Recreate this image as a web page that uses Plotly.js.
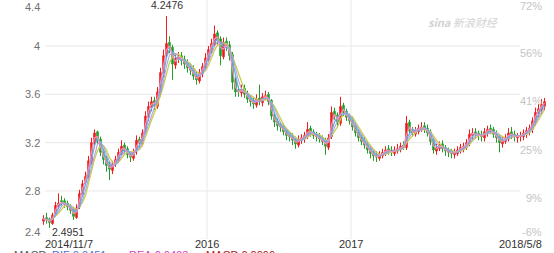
<!DOCTYPE html>
<html>
<head>
<meta charset="utf-8">
<script src="https://cdn.plot.ly/plotly-3.0.1.min.js"></script>
<style>
html,body{margin:0;padding:0;background:#fff;}
#chart{width:554px;height:253px;}
</style>
</head>
<body>
<div id="chart"></div>
<script>
// ---- data (weekly-ish candles, 2014/11/7 .. 2018/5/8) ----
const opens = [2.55,2.58,2.57,2.53,2.61,2.67,2.72,2.72,2.70,2.66,2.65,2.58,2.67,2.77,2.88,2.91,3.04,3.19,3.29,3.23,
3.13,3.07,3.02,2.97,3.03,3.05,3.11,3.18,3.15,3.11,3.07,3.13,3.23,3.19,3.29,3.41,3.49,3.55,3.50,3.61,
3.77,3.93,4.03,3.99,3.84,3.89,3.92,3.89,3.86,3.83,3.81,3.76,3.71,3.77,3.82,3.89,3.96,4.01,4.11,4.06,
3.91,4.04,4.01,3.93,3.71,3.63,3.61,3.65,3.61,3.57,3.55,3.51,3.57,3.53,3.57,3.60,3.55,3.43,3.38,3.35,
3.34,3.30,3.27,3.26,3.23,3.18,3.22,3.23,3.25,3.32,3.29,3.27,3.26,3.24,3.22,3.16,3.25,3.46,3.43,3.36,
3.51,3.46,3.42,3.39,3.34,3.29,3.25,3.22,3.19,3.15,3.12,3.10,3.07,3.09,3.11,3.15,3.14,3.11,3.13,3.14,
3.18,3.16,3.37,3.31,3.27,3.29,3.31,3.34,3.32,3.29,3.22,3.13,3.15,3.19,3.16,3.14,3.13,3.10,3.11,3.13,
3.15,3.16,3.19,3.26,3.29,3.28,3.27,3.24,3.28,3.32,3.31,3.28,3.25,3.19,3.21,3.23,3.29,3.27,3.24,3.25,
3.25,3.27,3.29,3.31,3.37,3.44,3.47,3.50];
const highs = [2.60,2.62,2.58,2.62,2.71,2.78,2.76,2.74,2.72,2.69,2.67,2.69,2.81,2.89,2.96,3.09,3.24,3.31,3.30,3.25,
3.15,3.09,3.05,3.05,3.09,3.15,3.22,3.20,3.17,3.13,3.15,3.26,3.25,3.31,3.46,3.54,3.58,3.58,3.66,3.82,
3.97,4.2476,4.08,4.01,3.94,3.95,3.95,3.92,3.89,3.86,3.84,3.79,3.81,3.86,3.94,4.00,4.06,4.17,4.13,4.08,
4.07,4.07,4.04,3.95,3.74,3.67,3.68,3.68,3.63,3.59,3.57,3.60,3.68,3.61,3.63,3.62,3.56,3.45,3.40,3.37,
3.36,3.32,3.29,3.28,3.25,3.26,3.27,3.29,3.37,3.34,3.31,3.29,3.28,3.26,3.24,3.27,3.50,3.49,3.45,3.58,
3.53,3.48,3.44,3.41,3.36,3.31,3.27,3.25,3.21,3.17,3.14,3.13,3.13,3.15,3.17,3.18,3.17,3.17,3.19,3.20,
3.21,3.42,3.39,3.33,3.33,3.35,3.37,3.37,3.35,3.31,3.24,3.19,3.21,3.22,3.18,3.16,3.15,3.15,3.17,3.19,
3.20,3.23,3.31,3.32,3.32,3.30,3.30,3.32,3.34,3.35,3.33,3.30,3.27,3.25,3.27,3.32,3.33,3.30,3.28,3.29,
3.31,3.33,3.35,3.41,3.49,3.52,3.56,3.57];
const lows = [2.52,2.53,2.4951,2.52,2.59,2.65,2.68,2.66,2.64,2.61,2.56,2.57,2.65,2.75,2.85,2.89,3.02,3.16,3.18,3.09,
3.02,2.96,2.89,2.94,3.00,3.03,3.09,3.11,3.07,3.04,3.05,3.10,3.16,3.17,3.27,3.38,3.46,3.47,3.48,3.58,
3.74,3.90,3.94,3.72,3.81,3.86,3.84,3.81,3.78,3.76,3.72,3.68,3.69,3.74,3.80,3.87,3.94,3.99,4.01,3.84,
3.89,3.96,3.88,3.64,3.58,3.58,3.58,3.57,3.53,3.50,3.48,3.49,3.51,3.50,3.55,3.51,3.39,3.33,3.30,3.29,
3.26,3.22,3.21,3.18,3.15,3.16,3.19,3.20,3.23,3.25,3.23,3.21,3.20,3.18,3.10,3.14,3.23,3.39,3.33,3.34,
3.42,3.38,3.35,3.30,3.25,3.21,3.18,3.15,3.11,3.07,3.05,3.04,3.05,3.07,3.09,3.10,3.09,3.09,3.11,3.12,
3.14,3.14,3.27,3.25,3.25,3.27,3.29,3.28,3.25,3.18,3.11,3.10,3.13,3.12,3.09,3.08,3.07,3.07,3.09,3.11,
3.12,3.14,3.17,3.23,3.23,3.22,3.21,3.21,3.25,3.27,3.24,3.20,3.12,3.16,3.19,3.21,3.23,3.21,3.20,3.21,
3.22,3.24,3.26,3.28,3.34,3.41,3.44,3.47];
const closes = [2.57,2.56,2.54,2.60,2.68,2.70,2.71,2.69,2.67,2.64,2.59,2.66,2.78,2.86,2.92,3.05,3.20,3.28,3.22,3.12,
3.06,3.01,2.98,3.02,3.06,3.12,3.17,3.14,3.10,3.08,3.12,3.22,3.20,3.28,3.42,3.50,3.54,3.51,3.62,3.78,
3.92,4.02,3.98,3.85,3.90,3.91,3.88,3.85,3.82,3.80,3.75,3.72,3.78,3.83,3.90,3.97,4.02,4.10,4.05,3.92,
4.03,4.00,3.92,3.70,3.62,3.62,3.64,3.60,3.56,3.54,3.52,3.56,3.54,3.58,3.59,3.54,3.42,3.37,3.34,3.33,
3.29,3.26,3.25,3.22,3.19,3.23,3.24,3.26,3.31,3.28,3.26,3.25,3.23,3.21,3.17,3.24,3.45,3.42,3.37,3.50,
3.45,3.41,3.38,3.33,3.28,3.24,3.21,3.18,3.14,3.11,3.09,3.08,3.10,3.12,3.14,3.13,3.12,3.14,3.15,3.17,
3.17,3.36,3.30,3.28,3.30,3.32,3.33,3.31,3.28,3.21,3.14,3.16,3.18,3.15,3.13,3.12,3.11,3.12,3.14,3.16,
3.17,3.20,3.27,3.28,3.27,3.26,3.25,3.29,3.31,3.30,3.27,3.24,3.20,3.22,3.24,3.28,3.26,3.25,3.25,3.26,
3.28,3.30,3.32,3.38,3.45,3.48,3.52,3.54];

// axis tick labels
const leftTickVals = [4.4, 4.0, 3.6, 3.2, 2.8, 2.4];
const leftTickText = ['4.4', '4', '3.6', '3.2', '2.8', '2.4'];
const rightTickText = ['72%', '56%', '41%', '25%', '9%', '-6%'];
const xTickIdx = [0, 54.5, 102.5, 167];
const xTickText = ['2014/11/7', '2016', '2017', '2018/5/8'];
const hiIdx = 41, hiText = '4.2476';
const loIdx = 2, loText = '2.4951';
const macdLabels = ['MACD', 'DIF:0.0451', 'DEA:0.0403', 'MACD:0.0096'];
const macdColors = ['#555555', '#4a6fd8', '#d040c0', '#a01818'];

// ---- geometry ----
const W = 554, H = 253;
const mL = 42, mR = 8, mT = 0, mB = 14;
const plotW = W - mL - mR, plotH = H - mT - mB;
const N = closes.length;
const yTop = 4.3807, yBot = 2.4027;
const xs = closes.map((_, i) => i);

function ma(arr, n) {
  return arr.map((_, i) => {
    const s = arr.slice(Math.max(0, i - n + 1), i + 1);
    return s.reduce((a, b) => a + b, 0) / s.length;
  });
}
const pyOf = v => (yTop - v) / (yTop - yBot) * plotH;      // pixel inside plot
const paperY = py => 1 - py / plotH;
const paperX = px => (px - mL) / plotW;
const clamp = (v, a, b) => Math.min(b, Math.max(a, v));

const font = 'Arial, "Liberation Sans", sans-serif';

const traces = [
  {
    type: 'candlestick', x: xs, open: opens, high: highs, low: lows, close: closes,
    increasing: { line: { color: '#ee1c1c', width: 1 }, fillcolor: '#ee1c1c' },
    decreasing: { line: { color: '#1f9e2a', width: 1 }, fillcolor: '#1f9e2a' },
    whiskerwidth: 0, hoverinfo: 'skip', showlegend: false
  },
  { type: 'scatter', mode: 'lines', x: xs, y: ma(closes, 5), line: { color: '#c6cf48', width: 1.3 }, hoverinfo: 'skip', showlegend: false },
  { type: 'scatter', mode: 'lines', x: xs, y: ma(closes, 4), line: { color: '#b9a0e0', width: 1.1 }, hoverinfo: 'skip', showlegend: false },
  { type: 'scatter', mode: 'lines', x: xs, y: ma(closes, 3), line: { color: '#5db4e6', width: 1.3 }, hoverinfo: 'skip', showlegend: false },
  { type: 'scatter', mode: 'lines', x: xs, y: ma(closes, 2), line: { color: '#f28fb4', width: 1.3 }, hoverinfo: 'skip', showlegend: false }
];

const grid = '#e8e8e8';
const shapes = [];
leftTickVals.forEach(v => shapes.push({
  type: 'line', xref: 'paper', yref: 'y', x0: paperX(45), x1: paperX(520), y0: v, y1: v,
  line: { color: grid, width: 1 }, layer: 'below'
}));
[xTickIdx[1], xTickIdx[2]].forEach(xv => shapes.push({
  type: 'line', xref: 'x', yref: 'paper', x0: xv, x1: xv, y0: 0, y1: 1,
  line: { color: grid, width: 1 }, layer: 'below'
}));

const ann = [];
leftTickVals.forEach((v, k) => {
  const py = clamp(pyOf(v), 7, 232);
  ann.push({ xref: 'paper', yref: 'paper', x: paperX(42), y: paperY(py), xanchor: 'right', yanchor: 'middle',
    text: leftTickText[k], showarrow: false, font: { family: font, size: 11, color: '#707070' } });
  const pr = clamp(pyOf(v) + 7, 6, 232);
  ann.push({ xref: 'paper', yref: 'paper', x: paperX(544), y: paperY(pr), xanchor: 'right', yanchor: 'middle',
    text: rightTickText[k], showarrow: false, font: { family: font, size: 11, color: '#c4c4c4' } });
});
const xAnch = ['left', 'center', 'center', 'right'];
xTickIdx.forEach((xv, k) => {
  const px = k === 0 ? 43 : (k === 3 ? 544 : null);
  ann.push({
    xref: px === null ? 'x' : 'paper', yref: 'paper',
    x: px === null ? xv : paperX(px), y: paperY(244), xanchor: xAnch[k], yanchor: 'middle',
    text: xTickText[k], showarrow: false, font: { family: font, size: 11, color: '#333333' }
  });
});
ann.push({ xref: 'x', yref: 'y', x: hiIdx, y: highs[hiIdx], yshift: 11, xanchor: 'center', yanchor: 'middle',
  text: hiText, showarrow: false, font: { family: font, size: 10.5, color: '#333333' } });
ann.push({ xref: 'paper', yref: 'paper', x: paperX(50), y: paperY(232), xanchor: 'left', yanchor: 'middle',
  text: loText, showarrow: false, font: { family: font, size: 10.5, color: '#333333' } });
const macdX = [12, 50, 127, 204];
macdLabels.forEach((t, k) => ann.push({ xref: 'paper', yref: 'paper', x: paperX(macdX[k]), y: paperY(254.5),
  xanchor: 'left', yanchor: 'middle', text: t, showarrow: false, font: { family: font, size: 11, color: macdColors[k] } }));
ann.push({ xref: 'paper', yref: 'paper', x: paperX(463), y: paperY(22), xanchor: 'center', yanchor: 'middle',
  text: '<b><i>sina</i></b> <i>新浪财经</i>', showarrow: false,
  font: { family: '"Noto Sans CJK SC", Arial, sans-serif', size: 11, color: '#d2d2d2' } });

const layout = {
  width: W, height: H,
  margin: { l: mL, r: mR, t: mT, b: mB, pad: 0 },
  paper_bgcolor: '#ffffff', plot_bgcolor: '#ffffff',
  showlegend: false,
  xaxis: { range: [-0.5, N - 0.5], showgrid: false, zeroline: false, showticklabels: false, ticks: '',
    showline: false, rangeslider: { visible: false }, fixedrange: true },
  yaxis: { range: [yBot, yTop], showgrid: false, zeroline: false, showticklabels: false, ticks: '',
    showline: false, fixedrange: true },
  shapes: shapes, annotations: ann
};
Plotly.newPlot('chart', traces, layout, { staticPlot: true, displayModeBar: false });
</script>
</body>
</html>
